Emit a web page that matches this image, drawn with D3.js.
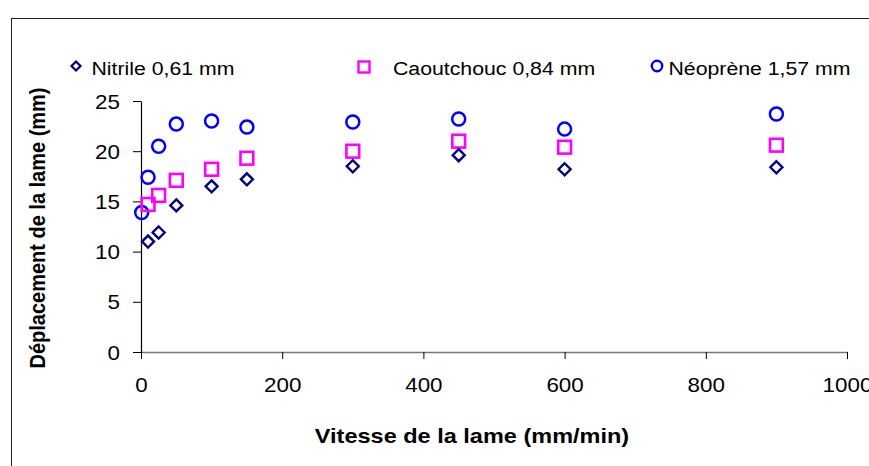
<!DOCTYPE html>
<html><head><meta charset="utf-8">
<script src="https://cdn.jsdelivr.net/npm/d3@7"></script>
<style>html,body{margin:0;padding:0;background:#fff}svg{display:block}</style>
</head><body>
<svg id="c" width="869" height="466"></svg>
<script>
const xTicks = [0, 200, 400, 600, 800, 1000];
const yTicks = [0, 5, 10, 15, 20, 25];
const speedsNitrile = [10, 25, 50, 100, 150, 300, 450, 600, 900];
const nitrile = [11.0, 11.9, 14.6, 16.5, 17.2, 18.5, 19.6, 18.2, 18.4];
const speedsCaout = [10, 25, 50, 100, 150, 300, 450, 600, 900];
const caoutchouc = [14.7, 15.6, 17.1, 18.2, 19.3, 20.0, 21.0, 20.4, 20.6];
const speedsNeo = [1, 10, 25, 50, 100, 150, 300, 450, 600, 900];
const neoprene = [13.9, 17.4, 20.5, 22.7, 23.0, 22.4, 22.9, 23.2, 22.2, 23.7];
const seriesNames = ["Nitrile 0,61 mm", "Caoutchouc 0,84 mm", "Néoprène 1,57 mm"];
const xTitle = "Vitesse de la lame (mm/min)";
const yTitle = "Déplacement de la lame (mm)";

const SX = 1.12; // horizontal stretch of text
const FONT = "'Liberation Sans', Arial, sans-serif";
const svg = d3.select("#c");

// chart border
svg.append("rect").attr("x", 11.5).attr("y", 18.5).attr("width", 900).attr("height", 500)
  .attr("fill", "none").attr("stroke", "#222").attr("stroke-width", 1);

const x = d3.scaleLinear().domain([0, 1000]).range([141, 847]);
const y = d3.scaleLinear().domain([0, 25]).range([352, 101]);

// x axis
const gx = svg.append("g").attr("transform", `translate(0,${y(0)})`)
  .call(d3.axisBottom(x).tickValues(xTicks).tickSize(7).tickSizeOuter(0).tickFormat(d3.format("d")));
gx.select(".domain").attr("stroke", "#777").attr("stroke-width", 1.3);
gx.selectAll(".tick line").attr("stroke", "#000");
gx.selectAll(".tick text").attr("y", 0).attr("dy", 0)
  .attr("transform", `translate(0,40) scale(${SX},1)`)
  .attr("font-family", FONT).attr("font-size", 20).attr("fill", "#000");

// y axis
const gy = svg.append("g").attr("transform", `translate(${x(0)},0)`)
  .call(d3.axisLeft(y).tickValues(yTicks).tickSize(8).tickSizeOuter(0));
gy.select(".domain").attr("stroke", "#000").attr("stroke-width", 1.2);
gy.selectAll(".tick line").attr("stroke", "#000");
gy.selectAll(".tick text").attr("x", 0).attr("dy", "0.35em")
  .attr("transform", `translate(-21,0) scale(${SX},1)`)
  .attr("font-family", FONT).attr("font-size", 20).attr("fill", "#000");

// titles
svg.append("text").attr("transform", `translate(472,443) scale(${SX},1)`)
  .attr("text-anchor", "middle").attr("font-family", FONT).attr("font-weight", "bold")
  .attr("font-size", 21).attr("fill", "#000").text(xTitle);
svg.append("text").attr("transform", `translate(45,228) scale(${SX},1) rotate(-90)`)
  .attr("text-anchor", "middle").attr("font-family", FONT).attr("font-weight", "bold")
  .attr("font-size", 20).attr("fill", "#000").text(yTitle);

// markers
function diamond(g, cx, cy, h, col, sw) {
  g.append("path").attr("d", `M${cx},${cy - h}L${cx + h},${cy}L${cx},${cy + h}L${cx - h},${cy}Z`)
    .attr("fill", "none").attr("stroke", col).attr("stroke-width", sw);
}
function square(g, cx, cy, s, col, sw) {
  g.append("rect").attr("x", cx - s / 2).attr("y", cy - s / 2).attr("width", s).attr("height", s)
    .attr("fill", "none").attr("stroke", col).attr("stroke-width", sw);
}
function circle(g, cx, cy, r, col, sw) {
  g.append("circle").attr("cx", cx).attr("cy", cy).attr("r", r)
    .attr("fill", "none").attr("stroke", col).attr("stroke-width", sw);
}
const cN = "#000080", cC = "#FF00FF", cB = "#0000FF";
const gm = svg.append("g");
speedsNeo.forEach((s, i) => circle(gm, x(s), y(neoprene[i]), 6.5, cB, 2.5));
speedsCaout.forEach((s, i) => square(gm, x(s), y(caoutchouc[i]), 12.8, cC, 2.6));
speedsNitrile.forEach((s, i) => diamond(gm, x(s), y(nitrile[i]), 6, cN, 2.4));

// legend
const gl = svg.append("g");
diamond(gl, 76, 66, 4.5, cN, 2.2);
square(gl, 364, 67, 11, cC, 2.4);
circle(gl, 657, 66, 5.2, cB, 2.4);
const legX = [91.5, 393, 668.5];
legX.forEach((lx, i) => {
  gl.append("text").attr("transform", `translate(${lx},74.5) scale(${SX},1)`)
    .attr("font-family", FONT).attr("font-size", 19).attr("fill", "#000").text(seriesNames[i]);
});
</script>
</body></html>
